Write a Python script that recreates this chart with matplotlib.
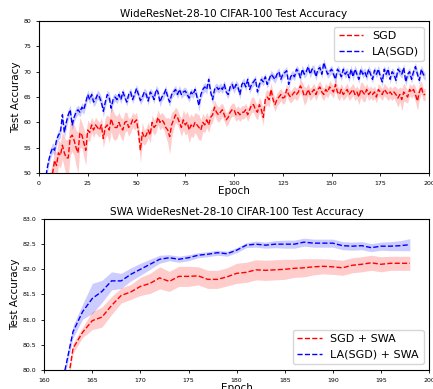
import matplotlib
matplotlib.use('Agg')
import matplotlib.pyplot as plt
import numpy as np

# top panel: full training, epochs 1..198
epochs = list(range(1, 199))

sgd_mean = [
    40, 43, 45, 46.5, 47.5, 48.5, 50, 52.5, 51.5, 54,
    53.5, 55.5, 54, 53, 53, 57, 57.5, 56.5, 55, 54,
    58, 57.5, 56, 54.5, 58.5, 58, 59.5, 58.5, 59.5, 59,
    58.5, 59.5, 56.8, 59, 59.5, 58.5, 60.7, 59.5, 59, 59,
    60, 59, 58.5, 60, 60.2, 59, 59.5, 60.5, 60, 60.5,
    58, 54.5, 58, 57, 57.5, 58.5, 57.5, 60, 59, 59.5,
    61, 60, 60.5, 60, 59, 58.5, 57.2, 59.5, 60.5, 61.5,
    61, 60, 59, 60.5, 59.5, 60, 58.5, 59.5, 59, 60,
    59.5, 59, 58.5, 60, 59.5, 60.5, 59.5, 61, 61.5, 63,
    62, 61.5, 62, 62.5, 61.5, 60.5, 61, 62, 62.5, 62.5,
    61.5, 62, 61.5, 62, 62, 62.5, 61.5, 62.5, 63.5, 63.5,
    62.5, 62, 63.5, 62.5, 61, 64.5, 65, 64.5, 66.5, 64.5,
    63.5, 64.5, 65, 65.5, 64.8, 65, 66.5, 65.5, 65, 65.5,
    66, 65.5, 66, 67.2, 66.5, 65.2, 65.5, 66.5, 65.5, 66,
    66.5, 65.5, 66.5, 67, 66, 65.5, 66.5, 66, 67, 66.5,
    66, 67.5, 66, 65.5, 66.5, 65.5, 66, 66.5, 65.5, 66,
    66.5, 65.5, 66, 65, 66.5, 66, 65.5, 66.5, 65.5, 66,
    65.5, 66, 65, 66.5, 66, 65.5, 66.5, 66, 65.5, 66,
    65.5, 66, 65.5, 64.8, 65.5, 64.5, 66, 65.5, 65, 66.5,
    66, 66.5, 65.5, 64.2, 66, 67, 65.5, 65.5,
]
sgd_std = [
    2, 2, 2, 2, 2, 2, 2, 2.2, 2.5, 2.5,
    2.5, 2.8, 3.0, 3.5, 3.8, 3.5, 3.2, 3.0, 3.5, 4.0,
    3.0, 2.5, 2.8, 3.0, 2.0, 1.8, 1.5, 1.5, 1.5, 1.5,
    1.5, 1.5, 1.8, 2.0, 2.0, 2.5, 2.5, 2.8, 2.5, 2.2,
    2.0, 2.0, 2.2, 2.0, 1.8, 1.8, 1.5, 1.5, 1.5, 1.5,
    2.0, 2.5, 2.0, 1.5, 1.5, 1.5, 1.5, 1.5, 1.5, 1.5,
    1.5, 1.5, 1.5, 1.5, 1.8, 2.5, 3.5, 2.5, 1.8, 1.5,
    1.5, 1.5, 1.8, 2.0, 2.0, 2.2, 2.5, 2.2, 2.0, 2.0,
    2.2, 2.5, 2.0, 1.8, 1.5, 1.5, 1.5, 1.5, 1.5, 1.5,
    1.5, 1.5, 1.5, 1.3, 1.3, 1.3, 1.3, 1.3, 1.3, 1.3,
    1.3, 1.3, 1.3, 1.3, 1.3, 1.3, 1.3, 1.3, 1.5, 1.5,
    1.5, 1.5, 1.5, 1.5, 1.5, 1.5, 1.5, 1.5, 1.3, 1.3,
    1.3, 1.3, 1.3, 1.2, 1.2, 1.2, 1.2, 1.2, 1.2, 1.2,
    1.2, 1.2, 1.2, 1.2, 1.5, 1.8, 1.5, 1.2, 1.2, 1.2,
    1.2, 1.2, 1.2, 1.2, 1.2, 1.2, 1.2, 1.2, 1.2, 1.2,
    1.2, 1.2, 1.2, 1.2, 1.2, 1.2, 1.2, 1.2, 1.2, 1.2,
    1.2, 1.2, 1.2, 1.5, 1.5, 1.8, 1.5, 1.2, 1.2, 1.2,
    1.2, 1.2, 1.2, 1.2, 1.2, 1.2, 1.2, 1.2, 1.2, 1.2,
    1.2, 1.2, 1.5, 1.8, 1.5, 2.2, 1.8, 1.5, 1.2, 1.2,
    1.2, 1.2, 1.5, 1.8, 1.5, 1.2, 1.2, 1.2,
]
la_mean = [
    38, 43, 47, 50.5, 52.5, 54, 55, 54.5, 56.5, 57.5,
    58, 61.5, 58, 60, 61.5, 62.5, 59.5, 61, 62, 62.5,
    62, 63, 62.5, 64, 65.5, 64.5, 65.5, 64, 64.5, 65.5,
    65, 64, 62.2, 64, 65.5, 65, 62.8, 64.5, 65, 64.5,
    65.5, 64.5, 66, 65, 64, 65.5, 66, 64.5, 65.5, 66.7,
    65.5, 64.3, 65, 66, 65.5, 64.2, 66, 65.5, 64.5, 66.5,
    66, 64, 65, 65.5, 66.5, 65, 64, 65.5, 66, 66.5,
    65.5, 66.5, 65.5, 66, 66.2, 65.5, 64.8, 66, 65.5, 66.5,
    65, 63.3, 65.5, 66.5, 67, 66.5, 68.5, 66, 64.5, 66.5,
    67, 66.5, 67, 66.5, 67.5, 66, 65.5, 67, 67.5, 66.5,
    67.5, 67, 65.5, 67.5, 68, 67, 68.5, 66.5, 67.5, 68,
    68.5, 66, 67.5, 68.5, 68, 69, 67.5, 68.5, 69.5, 69,
    68.5, 69.5, 70, 68.5, 69.5, 69.8, 70.2, 67.5, 69, 69.5,
    69, 70.5, 70, 68.8, 70.5, 69.5, 70, 71, 69.5, 70.5,
    70.5, 69, 70.5, 70.8, 69.5, 71.8, 70.5, 69.5, 70, 70.5,
    69.5, 68.5, 70.5, 70, 69, 70.5, 69.5, 70, 68.8, 70.5,
    69, 70.5, 69.5, 68.5, 70.5, 69.5, 70, 69, 70.5, 69.5,
    68.5, 70.3, 69.5, 70.5, 69, 68, 70.5, 69.5, 70.5, 68.5,
    70, 69.5, 68.3, 70.5, 70, 69.5, 70.8, 68, 69.5, 70,
    68.5, 70, 71, 69.5, 68.3, 70.5, 69.5, 69,
]
la_std = [
    1.0, 1.0, 1.0, 1.0, 1.0, 1.0, 1.0, 1.0, 1.0, 1.0,
    1.0, 1.0, 1.2, 1.2, 1.0, 1.0, 1.0, 1.0, 1.0, 0.9,
    0.9, 0.9, 0.9, 0.9, 0.9, 0.9, 0.9, 0.9, 0.9, 0.9,
    0.9, 1.0, 1.2, 1.0, 0.9, 0.9, 1.0, 0.9, 0.8, 0.8,
    0.8, 0.8, 0.8, 0.8, 0.8, 0.8, 0.8, 0.8, 0.8, 0.8,
    0.8, 0.8, 0.8, 0.8, 0.8, 0.8, 0.8, 0.8, 0.8, 0.8,
    0.8, 0.9, 0.8, 0.8, 0.8, 0.8, 0.9, 0.8, 0.8, 0.8,
    0.8, 0.8, 0.8, 0.8, 0.8, 0.8, 0.8, 0.8, 0.8, 0.8,
    0.9, 1.1, 0.9, 0.9, 0.9, 0.9, 0.9, 0.9, 1.0, 0.9,
    0.8, 0.8, 0.8, 0.8, 0.8, 0.8, 0.8, 0.8, 0.8, 0.8,
    0.8, 0.8, 0.9, 0.8, 0.8, 0.8, 0.8, 0.8, 0.8, 0.8,
    0.8, 0.9, 0.8, 0.8, 0.8, 0.8, 0.8, 0.8, 0.8, 0.8,
    0.8, 0.8, 0.8, 0.8, 0.8, 0.8, 0.8, 1.0, 0.8, 0.8,
    0.8, 0.8, 0.8, 0.8, 0.8, 0.8, 0.8, 0.8, 0.8, 0.8,
    0.8, 0.8, 0.8, 0.8, 0.8, 0.8, 0.8, 0.8, 0.8, 0.8,
    0.8, 0.8, 0.8, 0.8, 0.8, 0.8, 0.8, 0.8, 0.8, 0.8,
    0.8, 0.8, 0.8, 0.8, 0.8, 0.8, 0.8, 0.8, 0.8, 0.8,
    0.8, 0.8, 0.8, 0.8, 0.8, 0.9, 0.8, 0.8, 0.8, 0.8,
    0.8, 0.8, 0.8, 0.8, 0.8, 0.8, 0.8, 0.9, 0.8, 0.8,
    0.8, 0.8, 0.8, 0.8, 0.9, 0.8, 0.8, 0.8,
]

# bottom panel: SWA phase, epochs 162..198
swa_epochs = list(range(162, 199))
sgd_swa_mean = [
    79.2, 80.43, 80.75, 80.98, 81.05, 81.28, 81.48, 81.55, 81.66, 81.72,
    81.83, 81.76, 81.86, 81.86, 81.87, 81.80, 81.80, 81.85, 81.92, 81.94,
    81.99, 81.98, 81.99, 82.00, 82.02, 82.03, 82.05, 82.06, 82.05, 82.03,
    82.08, 82.10, 82.13, 82.10, 82.12, 82.12, 82.12,
]
sgd_swa_std = [
    0.10, 0.10, 0.10, 0.18, 0.20, 0.18, 0.15, 0.15, 0.18, 0.20,
    0.22, 0.20, 0.20, 0.20, 0.18, 0.18, 0.18, 0.18, 0.20, 0.20,
    0.20, 0.20, 0.20, 0.20, 0.18, 0.18, 0.16, 0.15, 0.15, 0.15,
    0.15, 0.15, 0.15, 0.15, 0.14, 0.14, 0.14,
]
la_swa_mean = [
    79.85, 80.76, 81.16, 81.42, 81.56, 81.77, 81.77, 81.90, 82.00, 82.10,
    82.20, 82.23, 82.20, 82.23, 82.28, 82.30, 82.33, 82.31, 82.38, 82.48,
    82.50, 82.48, 82.50, 82.50, 82.50, 82.54, 82.52, 82.52, 82.52, 82.47,
    82.46, 82.47, 82.43, 82.46, 82.46, 82.47, 82.49,
]
la_swa_std = [
    0.10, 0.12, 0.15, 0.30, 0.22, 0.18, 0.15, 0.13, 0.12, 0.10,
    0.08, 0.06, 0.06, 0.06, 0.05, 0.05, 0.05, 0.05, 0.05, 0.05,
    0.06, 0.06, 0.07, 0.08, 0.08, 0.08, 0.08, 0.08, 0.08, 0.08,
    0.08, 0.08, 0.08, 0.08, 0.09, 0.10, 0.12,
]

def band(ax, x, mean, std, color, label):
    m = np.array(mean)
    s = np.array(std)
    ax.fill_between(x, m - s, m + s, color=color, alpha=0.2, linewidth=0)
    ax.plot(x, m, '--', color=color, linewidth=1.0, label=label)

fig = plt.figure(figsize=(4.33, 3.89), dpi=100)

ax1 = fig.add_axes([0.090, 0.555, 0.901, 0.391])
band(ax1, epochs, sgd_mean, sgd_std, 'r', 'SGD')
band(ax1, epochs, la_mean, la_std, 'b', 'LA(SGD)')
ax1.set_xlim(0, 200)
ax1.set_ylim(50, 80)
ax1.set_xticks(np.arange(0, 201, 25))
ax1.set_yticks(np.arange(50, 81, 5))
ax1.tick_params(labelsize=4.5, length=2, width=0.6)
ax1.set_title('WideResNet-28-10 CIFAR-100 Test Accuracy', fontsize=7.5, pad=3)
ax1.set_xlabel('Epoch', fontsize=7.5, labelpad=0)
ax1.set_ylabel('Test Accuracy', fontsize=7.5, labelpad=2)
ax1.legend(loc='upper right', fontsize=8, handlelength=2.2)

ax2 = fig.add_axes([0.102, 0.049, 0.889, 0.388])
band(ax2, swa_epochs, sgd_swa_mean, sgd_swa_std, 'r', 'SGD + SWA')
band(ax2, swa_epochs, la_swa_mean, la_swa_std, 'b', 'LA(SGD) + SWA')
ax2.set_xlim(160, 200)
ax2.set_ylim(80, 83)
ax2.set_xticks(np.arange(160, 201, 5))
ax2.set_yticks(np.arange(80, 83.01, 0.5))
ax2.set_yticklabels(['%.1f' % v for v in np.arange(80, 83.01, 0.5)])
ax2.tick_params(labelsize=4.5, length=2, width=0.6)
ax2.set_title('SWA WideResNet-28-10 CIFAR-100 Test Accuracy', fontsize=7.5, pad=3)
ax2.set_xlabel('Epoch', fontsize=7.5, labelpad=0)
ax2.set_ylabel('Test Accuracy', fontsize=7.5, labelpad=2)
ax2.legend(loc='lower right', fontsize=8, handlelength=2.2)

fig.savefig('out.png', dpi=100)
